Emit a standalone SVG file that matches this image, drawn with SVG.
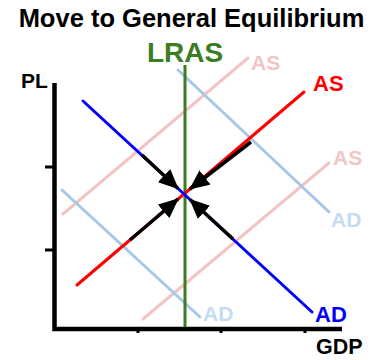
<svg xmlns="http://www.w3.org/2000/svg" width="387" height="360" viewBox="0 0 387 360">
<style>
text{font-family:"Liberation Sans",Arial,sans-serif;font-weight:bold}
.ax{stroke:#000;stroke-width:4.5;fill:none;stroke-linecap:butt}
.tk{stroke:#000;stroke-width:3;fill:none}
.c{stroke-width:3;fill:none;stroke-linecap:round}
.arr{stroke:#000;stroke-width:3.5;fill:none}
</style>
<defs>
<marker id="ah" markerUnits="userSpaceOnUse" markerWidth="20" markerHeight="18" refX="19" refY="9" orient="auto" viewBox="0 0 20 18">
<path d="M0,0 L20,9 L0,18 z" fill="#000"/>
</marker>
</defs>
<rect width="387" height="360" fill="#fff"/>
<text x="191.5" y="27" font-size="25.5" text-anchor="middle" fill="#000">Move to General Equilibrium</text>
<g id="axes">
<path class="ax" d="M54.5,83 V329 H342"/>
<path class="tk" d="M45,167 H54 M45,250 H54 M138,329 V333 M221,329 V333 M305,329 V333"/>
<text x="21" y="88" font-size="21">PL</text>
<text x="316" y="354" font-size="21.5">GDP</text>
</g>
<g id="AS2-light">
<line class="c" x1="63" y1="214" x2="248" y2="58" stroke="#f4c4c4"/>
<text x="251" y="70" font-size="21" fill="#f2c4c4">AS</text>
</g>
<g id="AS3-light">
<line class="c" x1="143" y1="319" x2="329" y2="163" stroke="#f4c4c4"/>
<text x="333" y="165" font-size="21" fill="#f2c4c4">AS</text>
</g>
<g id="AD2-light">
<line class="c" x1="178" y1="70" x2="329" y2="212" stroke="#a6c8e8"/>
<text x="331" y="227" font-size="21" fill="#c4dcf2">AD</text>
</g>
<g id="AD3-light">
<line class="c" x1="62" y1="190" x2="200" y2="317" stroke="#a6c8e8"/>
<text x="203" y="321" font-size="21" fill="#c4dcf2">AD</text>
</g>
<g id="LRAS">
<line x1="185" y1="65" x2="185" y2="327" stroke="#3a7d22" stroke-width="3"/>
<text x="147" y="62" font-size="28" fill="#3a7d22">LRAS</text>
</g>
<g id="AS">
<line class="c" x1="77" y1="285" x2="304" y2="92" stroke="#ff0000"/>
<text x="313" y="91" font-size="22" fill="#ff0000">AS</text>
</g>
<g id="AD">
<line class="c" x1="83" y1="101" x2="312" y2="312" stroke="#0000ff"/>
<text x="315" y="322" font-size="22" fill="#0000ff">AD</text>
</g>
<g id="connectors">
<line class="arr" x1="251" y1="142" x2="190" y2="189" marker-end="url(#ah)"/>
<line class="arr" x1="130" y1="240" x2="178" y2="199" marker-end="url(#ah)"/>
<line class="arr" x1="142" y1="155" x2="178" y2="188.5" marker-end="url(#ah)"/>
<line class="arr" x1="233" y1="239" x2="190" y2="199.5" marker-end="url(#ah)"/>
</g>
</svg>
